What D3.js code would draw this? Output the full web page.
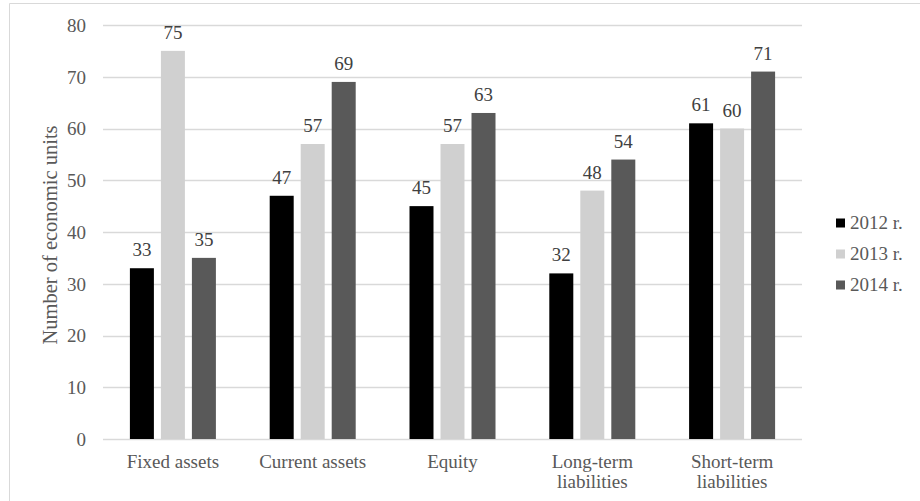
<!DOCTYPE html>
<html>
<head>
<meta charset="utf-8">
<script src="https://cdn.jsdelivr.net/npm/d3@7/dist/d3.min.js"></script>
<style>
  html, body { margin: 0; padding: 0; background: #fff; }
  svg { display: block; }
  svg text { font-family: "Liberation Serif", "Times New Roman", "DejaVu Serif", serif; }
</style>
</head>
<body>
<svg id="chart" width="920" height="501"></svg>
<script>
// Categories (multi-line labels split on "\n")
const categories = ["Fixed assets", "Current assets", "Equity", "Long-term\nliabilities", "Short-term\nliabilities"];
const seriesNames = ["2012 r.", "2013 r.", "2014 r."];
const values2012 = [33, 47, 45, 32, 61];
const values2013 = [75, 57, 57, 48, 60];
const values2014 = [35, 69, 63, 54, 71];
const seriesColors = ["#000000", "#d0d0d0", "#595959"];
const yTicks = [0, 10, 20, 30, 40, 50, 60, 70, 80];
const yTitle = "Number of economic units";

const series = [values2012, values2013, values2014];

const FONT = "Liberation Serif, Times New Roman, serif";
const svg = d3.select("#chart");
const textColor = "#595959";

// Outer frame (top and left edges visible)
svg.append("line").attr("x1", 9.5).attr("x2", 920).attr("y1", 3.5).attr("y2", 3.5)
  .attr("stroke", "#d9d9d9").attr("stroke-width", 1);
svg.append("line").attr("x1", 9.5).attr("x2", 9.5).attr("y1", 3.5).attr("y2", 501)
  .attr("stroke", "#d9d9d9").attr("stroke-width", 1);

const plot = { left: 103, right: 802, top: 25, bottom: 439 };

const x0 = d3.scaleBand().domain(d3.range(categories.length))
  .range([plot.left, plot.right]).paddingInner(0).paddingOuter(0);
const groupWidth = 86;
const x1 = d3.scaleBand().domain(d3.range(series.length))
  .range([0, groupWidth]).paddingInner(0.226).paddingOuter(0);
const y = d3.scaleLinear().domain([0, 80]).range([plot.bottom, plot.top]);

// Gridlines
svg.append("g").selectAll("line").data(yTicks).join("line")
  .attr("x1", plot.left).attr("x2", plot.right)
  .attr("y1", d => Math.round(y(d)) + 0.5).attr("y2", d => Math.round(y(d)) + 0.5)
  .attr("stroke", "#d9d9d9").attr("stroke-width", 1.3);

// Y axis tick labels
const yAxis = d3.axisLeft(y).tickValues(yTicks).tickSize(0).tickPadding(0);
const gy = svg.append("g").attr("transform", `translate(${plot.left - 17},0)`).call(yAxis)
  .attr("font-family", FONT);
gy.select(".domain").remove();
gy.selectAll("text")
  .attr("fill", textColor)
  .attr("dy", "0.34em")
  .attr("font-family", FONT)
  .attr("font-size", 19);

// Y axis title
svg.append("text")
  .attr("transform", `translate(57,${235}) rotate(-90)`)
  .attr("text-anchor", "middle")
  .attr("fill", textColor)
  .attr("font-family", FONT)
  .attr("font-size", 20.5)
  .text(yTitle);

// Bars
const groups = svg.append("g").selectAll("g").data(categories).join("g")
  .attr("transform", (d, i) => `translate(${x0(i) + (x0.bandwidth() - groupWidth) / 2},0)`);

groups.each(function (c, ci) {
  const g = d3.select(this);
  series.forEach((vals, si) => {
    g.append("rect")
      .attr("x", x1(si))
      .attr("y", y(vals[ci]))
      .attr("width", x1.bandwidth())
      .attr("height", y(0) - y(vals[ci]))
      .attr("fill", seriesColors[si]);
    g.append("text")
      .attr("x", x1(si) + x1.bandwidth() / 2)
      .attr("y", y(vals[ci]) - 12)
      .attr("text-anchor", "middle")
      .attr("fill", "#404040")
      .attr("font-family", FONT)
      .attr("font-size", 19)
      .text(vals[ci]);
  });
});

// Category labels
const xl = svg.append("g");
categories.forEach((c, i) => {
  const lines = c.split("\n");
  const cx = x0(i) + x0.bandwidth() / 2;
  const t = xl.append("text")
    .attr("x", cx)
    .attr("y", 468)
    .attr("text-anchor", "middle")
    .attr("fill", textColor)
    .attr("font-family", FONT)
    .attr("font-size", 19);
  lines.forEach((ln, li) => {
    t.append("tspan").attr("x", cx).attr("dy", li === 0 ? 0 : 20).text(ln);
  });
});

// Legend
const legend = svg.append("g").attr("transform", "translate(836,223)");
seriesNames.forEach((name, i) => {
  const row = legend.append("g").attr("transform", `translate(0,${i * 31})`);
  row.append("rect").attr("x", 0).attr("y", -4.5).attr("width", 9).attr("height", 9)
    .attr("fill", seriesColors[i]);
  row.append("text").attr("x", 14).attr("y", 5.5)
    .attr("fill", textColor)
    .attr("font-family", FONT)
    .attr("font-size", 19)
    .text(name);
});
</script>
</body>
</html>
